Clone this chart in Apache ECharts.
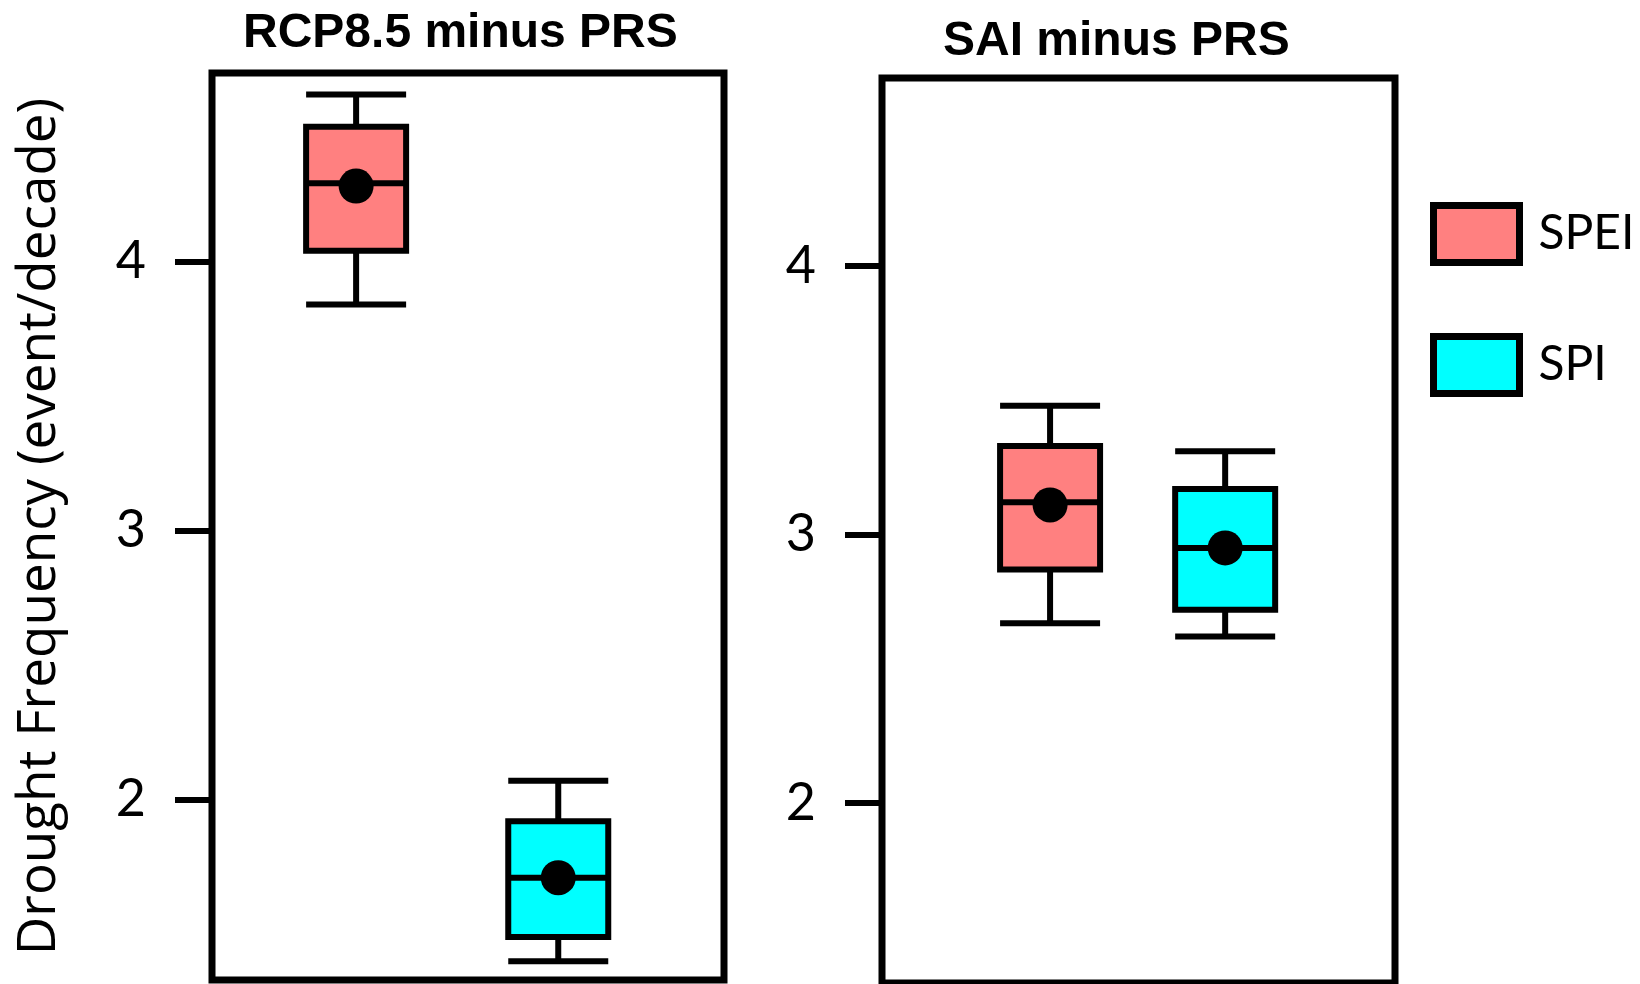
<!DOCTYPE html>
<html style="height: 100%">
<head>
    <meta charset="utf-8">
</head>
<body style="height: 100%; margin: 0; background: #fff">
<div id="container" style="width: 1640px; height: 984px"></div>
<script src="https://cdn.jsdelivr.net/npm/echarts@6/dist/echarts.min.js"></script>
<script>
var groups = ['SPEI', 'SPI'];
var groupPos = [1, 2];
var panelTitles = ['RCP8.5 minus PRS', 'SAI minus PRS'];
var yName = 'Drought Frequency (event/decade)';
var yTicks = [2, 3, 4];
// [min, Q1, median, Q3, max]
var rcpSPEI = [3.84, 4.04, 4.29, 4.50, 4.62];
var rcpSPI = [1.40, 1.49, 1.71, 1.92, 2.07];
var saiSPEI = [2.67, 2.87, 3.12, 3.33, 3.48];
var saiSPI = [2.62, 2.72, 2.95, 3.17, 3.31];
var rcpMean = [4.28, 1.71];
var saiMean = [3.11, 2.95];
var colors = ['#ff8080', '#00ffff'];

var dom = document.getElementById('container');
var myChart = echarts.init(dom);

function yAxis(idx, withName) {
    var ax = {
        gridIndex: idx,
        type: 'value',
        min: 1.33,
        max: 4.70,
        axisLine: {show: false},
        splitLine: {show: false},
        axisTick: {
            show: true,
            length: 37,
            customValues: yTicks,
            lineStyle: {color: '#000', width: 6}
        },
        axisLabel: {
            customValues: yTicks,
            margin: 66,
            fontSize: 52,
            fontFamily: 'Lato',
            color: '#000'
        }
    };
    if (withName) {
        ax.name = yName;
        ax.nameLocation = 'middle';
        ax.nameGap = 146;
        ax.nameTextStyle = {fontFamily: 'Open Sans', fontSize: 53, color: '#000'};
    }
    return ax;
}

// each box gets its own hidden x axis so ECharts does not shift them side by side
function xAxis(gi, min, max) {
    return {gridIndex: gi, type: 'value', min: min, max: max, show: false};
}

function box(name, gi, xi, values, color) {
    return {
        name: name,
        type: 'boxplot',
        xAxisIndex: xi,
        yAxisIndex: gi,
        boxWidth: [100, 100],
        itemStyle: {color: color, borderColor: '#000', borderWidth: 6},
        data: [[groupPos[groups.indexOf(name)]].concat(values)]
    };
}

function means(gi, xi, vals) {
    return {
        name: 'mean',
        type: 'scatter',
        xAxisIndex: xi,
        yAxisIndex: gi,
        symbol: 'circle',
        symbolSize: 35,
        itemStyle: {color: '#000', opacity: 1},
        z: 5,
        data: [[groupPos[0], vals[0]], [groupPos[1], vals[1]]]
    };
}

var titleStyle = {fontFamily: 'Liberation Sans', fontWeight: 'bold', fontSize: 48, color: '#000'};

var option = {
    animation: false,
    backgroundColor: '#fff',
    title: [
        {text: panelTitles[0], left: 243, top: 10, padding: 0, textStyle: titleStyle},
        {text: panelTitles[1], left: 943, top: 18, padding: 0, textStyle: titleStyle}
    ],
    legend: {
        orient: 'vertical',
        left: 1425,
        top: 197,
        icon: 'rect',
        itemWidth: 86,
        itemHeight: 57,
        itemGap: 67,
        itemStyle: {borderColor: '#000', borderWidth: 7},
        textStyle: {fontFamily: 'Lato', fontSize: 48, color: '#000', padding: [0, 0, 0, 14]},
        data: [
            {name: groups[0], itemStyle: {color: colors[0]}},
            {name: groups[1], itemStyle: {color: colors[1]}}
        ]
    },
    grid: [
        {left: 212, top: 73, width: 512, height: 907, show: true,
         borderColor: '#000', borderWidth: 7, backgroundColor: 'transparent'},
        {left: 882, top: 78, width: 513, height: 905, show: true,
         borderColor: '#000', borderWidth: 7, backgroundColor: 'transparent'}
    ],
    xAxis: [
        xAxis(0, 0.287, 2.82),
        xAxis(0, 0.287, 2.82),
        xAxis(1, 0.04, 2.97),
        xAxis(1, 0.04, 2.97)
    ],
    yAxis: [yAxis(0, true), yAxis(1, false)],
    series: [
        box('SPEI', 0, 0, rcpSPEI, colors[0]),
        box('SPI', 0, 1, rcpSPI, colors[1]),
        box('SPEI', 1, 2, saiSPEI, colors[0]),
        box('SPI', 1, 3, saiSPI, colors[1]),
        means(0, 0, rcpMean),
        means(1, 2, saiMean)
    ]
};
myChart.setOption(option, true);
</script>
</body>
</html>
